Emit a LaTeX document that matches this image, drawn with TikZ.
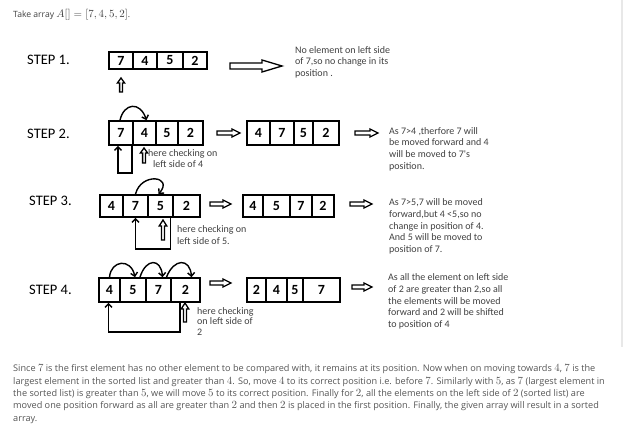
\documentclass[tikz,border=0pt]{standalone}
\usepackage{fontspec}
\setmainfont{Open Sans}
\newfontfamily\calfont{Carlito}
\usetikzlibrary{arrows.meta,calc}
\definecolor{txt}{HTML}{404040}
\definecolor{para}{HTML}{555555}
\newcommand\mth[1]{{\fontsize{10.6}{12}\selectfont$#1$}}
\newcommand\cellnode[6]{\node[cell,minimum width={#3pt-#2pt},minimum height={#5pt-#4pt}] (#1) at ({(#2+#3)/2},{(#4+#5)/2}) {#6};}
\newcommand\hollowarrow[7]{\draw[hol,shift={(#1,#2)},rotate=#7] (0,-#4) -- ({#3-#6},-#4) -- ({#3-#6},-#5) -- (#3,0) -- ({#3-#6},#5) -- ({#3-#6},#4) -- (0,#4) -- cycle;}
\begin{document}
\begin{tikzpicture}[x=1pt,y=-1pt,
  cell/.style={draw,line width=1.7pt,inner sep=0pt,font=\calfont\bfseries\fontsize{14}{14}\selectfont},
  steplbl/.style={font=\calfont\fontsize{14.5}{16}\selectfont,inner sep=0pt,anchor=west},
  note/.style={font=\calfont\fontsize{10}{11.7}\selectfont,text=txt,align=left,inner sep=0pt,anchor=north west},
  paraline/.style={font=\fontsize{9.15}{12}\selectfont,text=para,inner sep=0pt,anchor=base west},
  hol/.style={draw,line width=1.3pt,fill=white,line join=miter},
  conn/.style={line width=1.4pt,-{Straight Barb[length=3.5pt,width=7pt]}}]
\useasboundingbox (0,0) rectangle (624,435);
\fill[black!9] (621,0) rectangle (623,347);
% title
\node[paraline,text=txt,font=\fontsize{8.6}{12}\selectfont] (title) at (13,18) {Take array {\fontsize{10.8}{12}\selectfont$A[] = [7, 4, 5, 2]$}.};
% STEP 1
\node[steplbl] (l1) at (27,60) {STEP 1.};
\cellnode{s1a}{109}{133}{52}{69}{7}
\cellnode{s1b}{133}{157}{52}{69}{4}
\cellnode{s1c}{157}{183}{52}{69}{5}
\cellnode{s1d}{183}{207}{52}{69}{2}
\hollowarrow{121}{92}{14}{1.4}{3.6}{5}{90}
\hollowarrow{230}{66}{52}{3}{6}{20}{0}
\node[note] (t1) at (295,46) {No element on left side\\of 7,so no change in its\\position .};
% STEP 2
\node[steplbl] (l2) at (27,134) {STEP 2.};
\cellnode{s2a}{109}{133}{121}{145}{7}
\cellnode{s2b}{133}{156}{121}{145}{4}
\cellnode{s2c}{156}{178}{121}{145}{5}
\cellnode{s2d}{178}{203}{121}{145}{2}
\cellnode{r2a}{247}{270}{121}{145}{4}
\cellnode{r2b}{270}{294}{121}{145}{7}
\cellnode{r2c}{294}{313}{121}{145}{5}
\cellnode{r2d}{313}{339}{121}{145}{2}
\draw[conn] ([xshift=-1pt]s2a.north) .. controls (124,103) and (140,101) .. ([xshift=2pt]s2b.north);
\draw[conn] (s2b.south west) -- ++(0,27) -| ([xshift=-3pt]s2a.south);
\hollowarrow{144}{163}{15}{1.4}{3.6}{5}{90}
\node[note] (h2) at (148,149) {here checking on\\\hspace*{5pt}left side of 4};
\hollowarrow{217}{133}{23}{2}{4}{8}{0}
\hollowarrow{355}{133}{23}{2}{4}{8}{0}
\node[note] (t2) at (389,127) {As 7>4 ,therfore 7 will\\be moved forward and 4\\will be moved to 7's\\position.};
% STEP 3
\node[steplbl] (l3) at (29,201) {STEP 3.};
\cellnode{s3a}{100}{123}{195}{217}{4}
\cellnode{s3b}{123}{148}{195}{217}{7}
\cellnode{s3c}{148}{173}{195}{217}{5}
\cellnode{s3d}{173}{200}{195}{217}{2}
\cellnode{r3a}{243}{263}{195}{217}{4}
\cellnode{r3b}{263}{290}{195}{217}{5}
\cellnode{r3c}{290}{312}{195}{217}{7}
\cellnode{r3d}{312}{334}{195}{217}{2}
\draw[conn] (s3b.north) .. controls (141,172) and (174,176) .. ([xshift=-2pt]s3c.north);
\draw[conn] ([xshift=10pt]s3c.south) -- ++(0,31) -| (s3b.south);
\hollowarrow{163}{240}{20}{1.5}{3.8}{6}{90}
\node[note] (h3) at (177,225.5) {here checking on\\left side of 5.};
\hollowarrow{210}{204}{21}{2}{4}{8}{0}
\hollowarrow{350}{204}{22}{2}{4}{8}{0}
\node[note] (t3) at (389,198.5) {As 7>5,7 will be moved\\forward,but 4 <5,so no\\change in position of 4.\\And 5 will be moved to\\position of 7.};
% STEP 4
\node[steplbl] (l4) at (29,290) {STEP 4.};
\cellnode{s4a}{99}{120}{278}{302}{4}
\cellnode{s4b}{120}{146}{278}{302}{5}
\cellnode{s4c}{146}{171}{278}{302}{7}
\cellnode{s4d}{171}{200}{278}{302}{2}
\cellnode{r4a}{247}{266}{278}{302}{2}
\cellnode{r4b}{266}{287}{278}{302}{4}
\cellnode{r4c}{287}{303}{278}{302}{5}
\cellnode{r4d}{303}{340}{278}{302}{7}
\draw[conn] (s4a.north) .. controls (111,260) and (131,258) .. ([xshift=2pt]s4b.north);
\draw[conn] ([xshift=7pt]s4b.north) .. controls (146,258) and (161,258) .. ([xshift=4pt]s4c.north);
\draw[conn] ([xshift=8pt]s4c.north) .. controls (174,258) and (190,258) .. ([xshift=6pt]s4d.north);
\draw[conn] ([xshift=-5.5pt]s4d.south) -- ++(0,29) -| ([xshift=-1pt]s4a.south);
\hollowarrow{185}{322}{19}{1.5}{3.8}{6}{90}
\node[note,font=\calfont\fontsize{10}{10.5}\selectfont] (h4) at (197,307) {here checking\\on left side of\\2};
\hollowarrow{210}{283}{21}{2}{4}{8}{0}
\hollowarrow{352}{287}{20}{2}{4}{8}{0}
\node[note] (t4) at (388,273.5) {As all the element on left side\\of 2 are greater than 2,so all\\the elements will be moved\\forward and 2 will be shifted\\to position of 4};
% paragraph
\node[paraline] (p1) at (13,372) {Since \mth{7} is the first element has no other element to be compared with, it remains at its position. Now when on moving towards \mth{4}, \mth{7} is the};
\node[paraline] (p2) at (13,384.3) {largest element in the sorted list and greater than \mth{4}. So, move \mth{4} to its correct position i.e. before \mth{7}. Similarly with \mth{5}, as \mth{7} (largest element in};
\node[paraline] (p3) at (13,396.6) {the sorted list) is greater than \mth{5}, we will move \mth{5} to its correct position. Finally for \mth{2}, all the elements on the left side of \mth{2} (sorted list) are};
\node[paraline] (p4) at (13,408.9) {moved one position forward as all are greater than \mth{2} and then \mth{2} is placed in the first position. Finally, the given array will result in a sorted};
\node[paraline] (p5) at (13,421.2) {array.};
\end{tikzpicture}
\end{document}
